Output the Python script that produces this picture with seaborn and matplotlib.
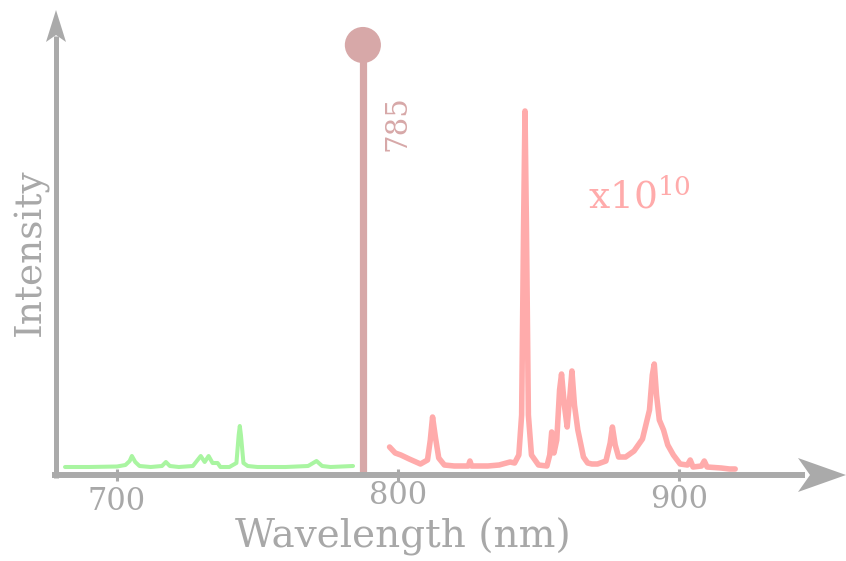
import numpy as np
import pandas as pd
import seaborn as sns
import matplotlib
import matplotlib.pyplot as plt
import matplotlib.transforms as mtransforms
from matplotlib.patches import Polygon
from matplotlib.lines import Line2D

# ---------------- data ----------------
green_nm = [681.5, 690, 700, 703, 704.5, 705.3, 706.5, 708, 712, 716, 717.4, 718.8,
            722, 727, 729.8, 731.2, 732.6, 734, 735.8, 736.8, 740, 742.5, 743.3,
            743.7, 744.1, 745, 746.5, 750, 760, 768, 771, 773, 776, 784]
green_int = [8, 8, 8.5, 10, 14, 19, 13, 9, 8, 9, 13, 9,
             8, 9, 19, 13, 19, 12, 12, 8, 8, 12, 40,
             49, 40, 12, 9, 8, 8, 9, 14, 9, 8, 9]

red_nm = [797, 799, 801, 804, 808, 810.5, 811.5, 812.3, 813.3, 814.5, 816.5, 820,
          825, 825.6, 826.2, 832, 836, 839.9, 841.5, 843, 844, 844.7, 845.2, 845.7,
          846.4, 847.5, 850, 853, 854, 854.7, 855.5, 856.5, 857.5, 858.2, 859.2,
          860.2, 861.2, 861.9, 862.8, 864, 866, 867.5, 869, 871, 874, 875.5, 876.3,
          877.3, 878.5, 881, 884, 887, 889.5, 890.5, 891.2, 892, 893, 894.5, 896,
          898, 900.4, 903, 904, 905, 908, 909, 910, 915, 918, 920]
red_int = [28, 22, 20, 16, 11, 15, 35, 58, 38, 17, 10, 9,
           9, 14, 9, 9, 10, 13, 12, 20, 60, 250, 364, 250,
           60, 20, 10, 9, 20, 43, 22, 35, 85, 101, 70,
           48, 80, 104, 70, 45, 18, 12, 11, 11, 14, 32, 48,
           30, 18, 18, 24, 36, 65, 100, 111, 80, 55, 45, 30,
           20, 11, 10, 15, 8, 9, 14, 8, 7, 6, 6]

laser_nm = [787.5]
laser_peak = [430]
laser_label = "785"
scale_label = "x10$^{10}$"

tick_values = [700, 800, 900]
tick_labels = ["700", "800", "900"]
x_title = "Wavelength (nm)"
y_title = "Intensity"

# ---------------- style ----------------
sns.set_theme(style="white")
plt.rcParams["font.family"] = ["DejaVu Serif"]
plt.rcParams["mathtext.fontset"] = "dejavuserif"

GREEN = "#a9f5a1"
RED = "#ffabab"
LASER = "#d7a8a8"
GRAY = "#aaaaaa"
TXT = "#a8a8a8"

W, H = 846, 561
fig = plt.figure(figsize=(W / 100, H / 100), dpi=100)
fig.patch.set_facecolor("white")
ax = fig.add_axes([56 / W, (H - 475) / H, (835 - 56) / W, (475 - 10) / H])
ax.patch.set_alpha(0)
ax.set_xlim(678.29, 955.52)
ax.set_ylim(0, 465)
for s in ax.spines.values():
    s.set_visible(False)

green_df = pd.DataFrame({"nm": green_nm, "I": green_int})
red_df = pd.DataFrame({"nm": red_nm, "I": red_int})

sns.lineplot(data=green_df, x="nm", y="I", ax=ax, color=GREEN, lw=2.9,
             sort=False, estimator=None, solid_joinstyle="round", solid_capstyle="round")
sns.lineplot(data=red_df, x="nm", y="I", ax=ax, color=RED, lw=4.0,
             sort=False, estimator=None, solid_joinstyle="round", solid_capstyle="round")

# laser line
ax.plot([laser_nm[0], laser_nm[0]], [0, laser_peak[0]], color=LASER, lw=5.2,
        solid_capstyle="butt", zorder=3)
sns.scatterplot(x=laser_nm, y=laser_peak, ax=ax, s=26 ** 2, color=LASER,
                edgecolor="none", zorder=4)
ax.text(800, 352, laser_label, rotation=90, ha="center", va="center",
        color=LASER, fontsize=21)
ax.text(885.8, 278, scale_label, ha="center", va="center", color=RED, fontsize=27)

# ticks
ax.set_xticks(tick_values)
ax.set_xticklabels(tick_labels)
ax.set_yticks([])
ax.tick_params(axis="x", bottom=True, direction="inout", length=8, width=2.2,
               color=GRAY, labelsize=22, labelcolor=TXT, pad=4)
for lab, dy in zip(ax.get_xticklabels(), [0, -6, -2]):
    lab.set_transform(lab.get_transform() +
                      mtransforms.ScaledTranslation(0, -dy / 100, fig.dpi_scale_trans))

ax.set_xlabel(x_title, fontsize=28, color=TXT, va="center")
ax.xaxis.set_label_coords((403 - 56) / 779, (475 - 537) / 465)
ax.set_ylabel(y_title, fontsize=27, color=TXT, va="center")
ax.yaxis.set_label_coords((31 - 56) / 779, (475 - 252) / 465)

# axis arrows (pixel coordinates, origin top-left)
tr = mtransforms.Affine2D().scale(1, -1).translate(0, H)
fig.add_artist(Line2D([52, 805], [475, 475], color=GRAY, lw=4.3,
                      solid_capstyle="butt", transform=tr))
fig.add_artist(Line2D([56, 56], [478, 36], color=GRAY, lw=3.6,
                      solid_capstyle="butt", transform=tr))
fig.add_artist(Polygon([[846, 475], [798, 458], [810, 475], [798, 492]],
                       closed=True, color=GRAY, lw=0, transform=tr))
fig.add_artist(Polygon([[56, 10], [46, 42], [56, 35], [66, 42]],
                       closed=True, color=GRAY, lw=0, transform=tr))

fig.savefig("out.png", dpi=100)
